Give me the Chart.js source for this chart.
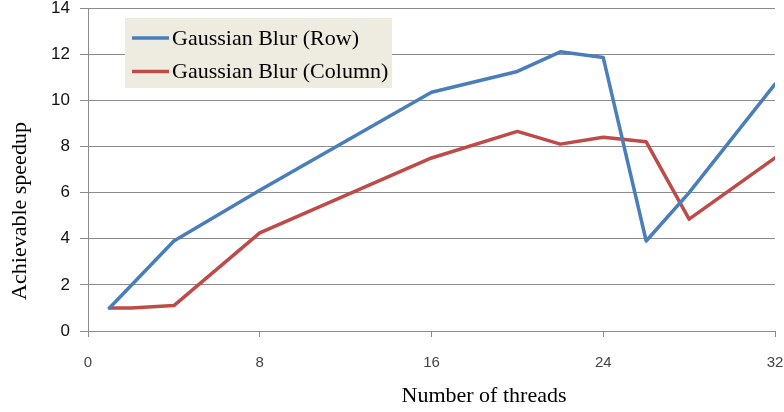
<!DOCTYPE html>
<html>
<head>
<meta charset="utf-8">
<script src="https://cdn.jsdelivr.net/npm/chart.js@4"></script>
<style>
    html, body { margin: 0; padding: 0; background: #fff; }
    #wrap { width: 784px; height: 412px; }
</style>
</head>
<body>
<div id="wrap"><canvas id="chart" width="784" height="412"></canvas></div>
<script>
// ============================================
// DATA
// ============================================

const rowThreads = [1, 4, 8, 16, 20, 22, 24, 26, 28, 32];
const rowSpeedup = [1, 3.9, 6.1, 10.35, 11.25, 12.1, 11.85, 3.9, 6.0, 10.7];

const colThreads = [1, 2, 4, 8, 16, 20, 22, 24, 26, 28, 32];
const colSpeedup = [1, 1, 1.1, 4.25, 7.5, 8.65, 8.1, 8.4, 8.2, 4.85, 7.5];

const seriesLabels = ['Gaussian Blur (Row)', 'Gaussian Blur (Column)'];
const seriesColors = ['#4a7ebb', '#be4b48'];

const xTicks = [0, 8, 16, 24, 32];
const yTicks = [0, 2, 4, 6, 8, 10, 12, 14];

const xTitle = 'Number of threads';
const yTitle = 'Achievable speedup';

const GRID = '#8c8c8c';
const SERIF = '"Liberation Serif", "Times New Roman", serif';
const SANS = '"Liberation Sans", Arial, sans-serif';

// ============================================
// HELPERS
// ============================================

function toPoints(xs, ys) {
    const pts = [];
    for (let i = 0; i < xs.length; i++) {
        pts.push({ x: xs[i], y: ys[i] });
    }
    return pts;
}

// legend box and axis titles, drawn over the chart
const overlayPlugin = {
    id: 'overlay',

    afterDraw(chart) {
        const { ctx, chartArea } = chart;

        ctx.save();

        // legend
        const boxX = chartArea.left + 37;
        const boxY = chartArea.top + 10;
        ctx.fillStyle = '#eeece1';
        ctx.fillRect(boxX, boxY, 267, 70);

        ctx.font = `22px ${SERIF}`;
        ctx.textBaseline = 'middle';
        ctx.textAlign = 'left';

        chart.data.datasets.forEach((ds, i) => {
            const cy = boxY + 20 + i * 33.4;
            ctx.strokeStyle = ds.borderColor;
            ctx.lineWidth = 3.5;
            ctx.beginPath();
            ctx.moveTo(boxX + 7, cy);
            ctx.lineTo(boxX + 44, cy);
            ctx.stroke();

            ctx.fillStyle = '#000';
            ctx.fillText(ds.label, boxX + 47, cy + 1);
        });

        // axis titles
        ctx.fillStyle = '#000';
        ctx.textAlign = 'center';
        ctx.font = `22px ${SERIF}`;
        ctx.fillText(xTitle, 484, 396);

        ctx.translate(20, 211);
        ctx.rotate(-Math.PI / 2);
        ctx.fillText(yTitle, 0, 0);

        ctx.restore();
    }
};

// ============================================
// CHART
// ============================================

const canvas = document.getElementById('chart');
const ctx = canvas.getContext('2d');

new Chart(ctx, {
    type: 'line',

    data: {
        datasets: [
            {
                label: seriesLabels[0],
                data: toPoints(rowThreads, rowSpeedup),
                borderColor: seriesColors[0],
                borderWidth: 3.5,
                pointRadius: 0,
                tension: 0,
                borderJoinStyle: 'round',
                borderCapStyle: 'round',
                fill: false
            },
            {
                label: seriesLabels[1],
                data: toPoints(colThreads, colSpeedup),
                borderColor: seriesColors[1],
                borderWidth: 3.5,
                pointRadius: 0,
                tension: 0,
                borderJoinStyle: 'round',
                borderCapStyle: 'round',
                fill: false
            }
        ]
    },

    options: {
        responsive: false,
        animation: false,
        devicePixelRatio: 1,

        layout: {
            padding: { top: 8, right: 9, left: 0, bottom: 0 }
        },

        plugins: {
            legend: { display: false },
            tooltip: { enabled: false }
        },

        scales: {
            x: {
                type: 'linear',
                min: 0,
                max: 32,
                afterBuildTicks(scale) {
                    scale.ticks = xTicks.map(v => ({ value: v }));
                },
                afterFit(scale) {
                    scale.height = 81;
                    scale.paddingLeft = 0;
                    scale.paddingRight = 0;
                },
                grid: {
                    drawOnChartArea: false,
                    drawTicks: true,
                    tickLength: 6,
                    color: GRID
                },
                border: {
                    display: true,
                    color: GRID
                },
                ticks: {
                    color: '#444',
                    padding: 17,
                    maxRotation: 0,
                    font: { family: SANS, size: 15 }
                }
            },

            y: {
                min: 0,
                max: 14,
                afterBuildTicks(scale) {
                    scale.ticks = yTicks.map(v => ({ value: v }));
                },
                afterFit(scale) {
                    scale.width = 88;
                    scale.paddingTop = 0;
                    scale.paddingBottom = 0;
                },
                grid: {
                    color: GRID,
                    drawTicks: true,
                    tickLength: 8
                },
                border: {
                    display: true,
                    color: GRID
                },
                ticks: {
                    color: '#111',
                    padding: 10,
                    font: { family: SANS, size: 17 }
                }
            }
        }
    },

    plugins: [overlayPlugin]
});
</script>
</body>
</html>
